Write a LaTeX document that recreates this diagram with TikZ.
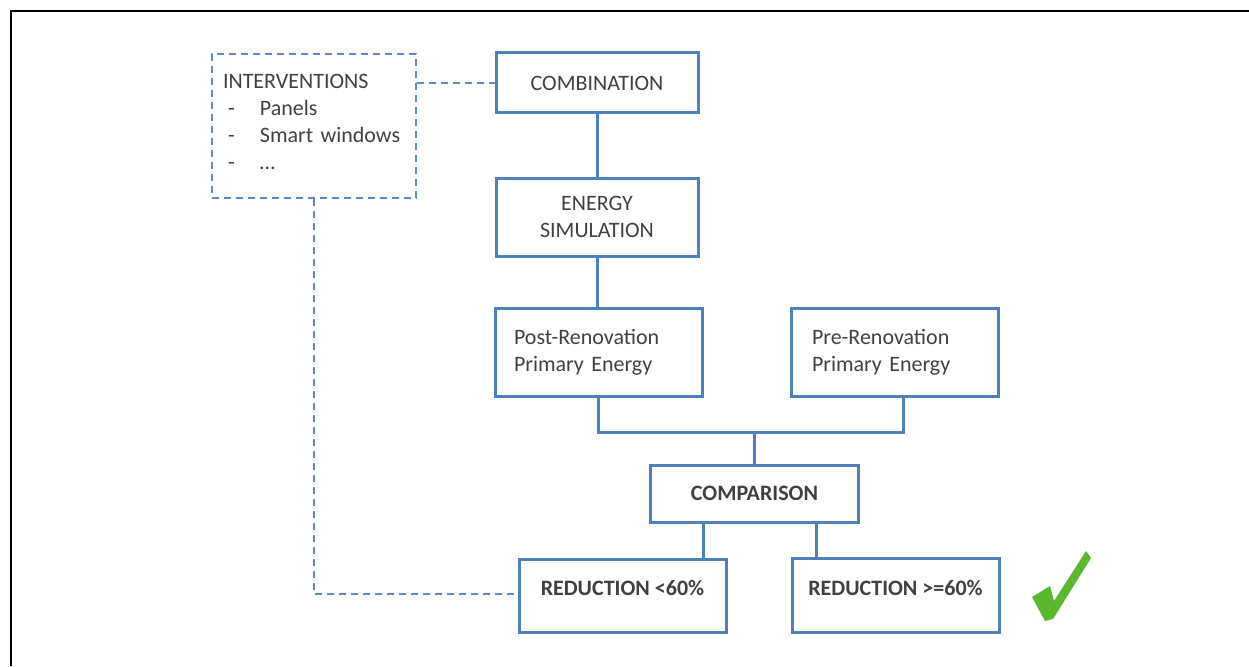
\documentclass[tikz,border=0pt]{standalone}
\usepackage{fontspec}
\setmainfont{Carlito}
\definecolor{boxblue}{HTML}{4F81BD}
\definecolor{dashblue}{HTML}{5A8ACB}
\definecolor{txt}{HTML}{404040}
\definecolor{checkgreen}{HTML}{5BB82E}
\begin{document}
\begin{tikzpicture}[x=1pt,y=-1pt,
  box/.style={draw=boxblue,line width=3pt,text=txt,font=\fontsize{22}{27}\selectfont,inner sep=0pt,align=center},
  conn/.style={draw=boxblue,line width=3pt},
  dconn/.style={draw=dashblue,line width=2.6pt,dash pattern=on 7pt off 5pt}]
\useasboundingbox (0,0) rectangle (1249,666);
\draw[black,line width=2.5pt] (11,666) -- (11,11) -- (1249,11);

\node[box,draw=dashblue,dash pattern=on 7pt off 5pt,line width=2.6pt,minimum width=204pt,minimum height=144pt,text width=182pt,align=left,inner xsep=11pt] (int) at (314,126)
  {INTERVENTIONS\\\makebox[37pt][l]{\hspace{5pt}-}Panels\\\makebox[37pt][l]{\hspace{5pt}-}Smart windows\\\makebox[37pt][l]{\hspace{5pt}-}\dots\par\vspace{8pt}};
\node[box,minimum width=202pt,minimum height=60pt] (comb) at (597,83) {COMBINATION};
\node[box,minimum width=202pt,minimum height=78pt] (sim) at (597,217) {ENERGY\\SIMULATION};
\node[box,minimum width=207pt,minimum height=88pt,text width=169pt,align=left,inner xsep=19pt] (post) at (598.5,352) {Post-Renovation\\Primary Energy};
\node[box,minimum width=207pt,minimum height=88pt,text width=165pt,align=left,inner xsep=21pt] (pre) at (894.5,352) {Pre-Renovation\\Primary Energy};
\node[box,minimum width=208pt,minimum height=57pt,font=\fontsize{22}{27}\selectfont\bfseries] (comp) at (754.5,493.5) {COMPARISON};
\node[box,minimum width=207pt,minimum height=73pt,text height=10pt,text depth=10pt,font=\fontsize{22}{27}\selectfont\bfseries] (red1) at (622.5,595.5) {REDUCTION <60\%};
\node[box,minimum width=207pt,minimum height=74pt,text height=12pt,text depth=12pt,font=\fontsize{22}{27}\selectfont\bfseries] (red2) at (895.5,595) {REDUCTION >=60\%};

\coordinate (j) at (754.5,432);
\draw[conn] (comb.south) -- (sim.north);
\draw[conn] (sim.south) -- (sim.south |- post.north);
\draw[conn] ([xshift=-0.5pt]post.south) |- (j) -| ([xshift=8.5pt]pre.south);
\draw[conn] (j) -- (comp.north);
\draw[conn] ([xshift=-51.5pt]comp.south) -- ([xshift=-51.5pt]comp.south |- red1.north);
\draw[conn] ([xshift=61.5pt]comp.south) -- ([xshift=61.5pt]comp.south |- red2.north);

\draw[dconn] (int.east |- comb.west) -- (comb.west);
\draw[dconn] (int.south) |- ([yshift=1.5pt]red1.west);

\fill[checkgreen] (1032,597) -- (1050,586) -- (1054,601) -- (1086,551) -- (1091,558) -- (1053,619) -- (1045,621) -- (1039,610) -- cycle;
\end{tikzpicture}
\end{document}
